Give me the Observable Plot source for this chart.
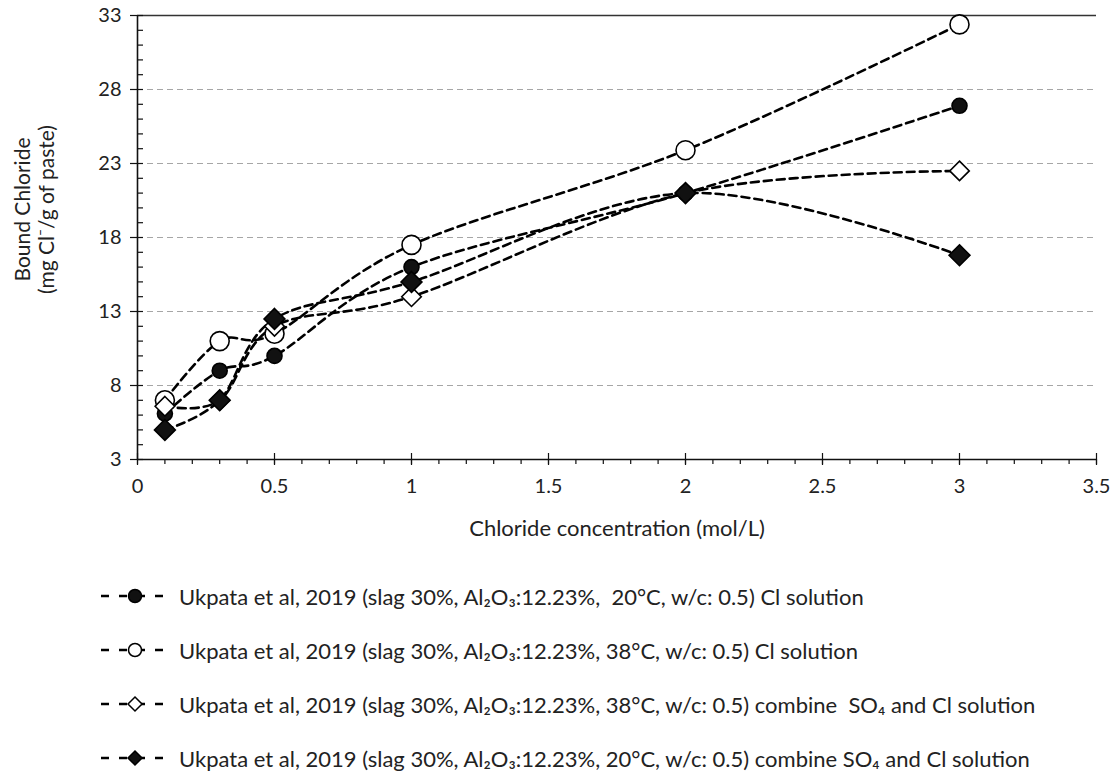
<!DOCTYPE html>
<html>
<head>
<meta charset="utf-8">
<script src="https://cdn.jsdelivr.net/npm/d3@7"></script>
<script src="https://cdn.jsdelivr.net/npm/@observablehq/plot@0.6"></script>
<style>
  html, body { margin: 0; padding: 0; background: #fff; }
  #wrap { position: relative; width: 1110px; height: 773px; font-family: Lato, "Open Sans", sans-serif; color: #222; }
  #chart { position: absolute; left: 0; top: 0; }
  .lg { position: absolute; left: 98px; height: 24px; display: flex; align-items: center; font-size: 22px; white-space: pre; }
  .lg svg { margin-right: 9px; }
</style>
</head>
<body>
<div id="wrap">
  <div id="chart"></div>
  <div id="legend"></div>
</div>
<script>
// ---- data ----
const concentration = [0.1, 0.3, 0.5, 1, 2, 3];
const slag20Cl      = [6.1, 9, 10, 16, 21, 26.9];
const slag38Cl      = [7, 11, 11.5, 17.5, 23.9, 32.4];
const slag38Combine = [6.6, 7, 12, 14, 21, 22.5];
const slag20Combine = [5, 7, 12.5, 15, 21, 16.8];
const seriesLabels = [
  "Ukpata et al, 2019 (slag 30%, Al\u2082O\u2083:12.23%,  20°C, w/c: 0.5) Cl solution",
  "Ukpata et al, 2019 (slag 30%, Al\u2082O\u2083:12.23%, 38°C, w/c: 0.5) Cl solution",
  "Ukpata et al, 2019 (slag 30%, Al\u2082O\u2083:12.23%, 38°C, w/c: 0.5) combine  SO\u2084 and Cl solution",
  "Ukpata et al, 2019 (slag 30%, Al\u2082O\u2083:12.23%, 20°C, w/c: 0.5) combine SO\u2084 and Cl solution"
];
const xTicks = [0, 0.5, 1, 1.5, 2, 2.5, 3, 3.5];
const yTicks = [3, 8, 13, 18, 23, 28, 33];
const xTitle = "Chloride concentration (mol/L)";
const yTitle = "Bound Chloride\n(mg Cl\u207B/g of paste)";

// ---- styles per series ----
const seriesValues = [slag20Cl, slag38Cl, slag38Combine, slag20Combine];
const markerStyle = [
  {symbol: "circle", r: 7.5, fill: "#111"},
  {symbol: "circle", r: 9.5, fill: "#fff"},
  {symbol: "diamond2", r: 8.8, fill: "#fff"},
  {symbol: "diamond2", r: 9.4, fill: "#111"}
];

const data = seriesValues.flatMap((vals, s) => concentration.map((x, i) => ({x, y: vals[i], s})));
const xMinor = d3.range(0, 36).map(i => i / 10);
const yMinor = d3.range(3, 34);

const chart = Plot.plot({
  width: 1110,
  height: 552,
  marginLeft: 137,
  marginRight: 14,
  marginTop: 15,
  marginBottom: 93,
  style: {fontFamily: "Lato, 'Open Sans', sans-serif", fontSize: "20px", color: "#222", background: "#fff"},
  x: {domain: [0, 3.5], label: null},
  y: {domain: [3, 33], label: null},
  marks: [
    Plot.gridY(yTicks.filter(d => d > 3 && d < 33), {stroke: "#a6a6a6", strokeOpacity: 1, strokeWidth: 1.2, strokeDasharray: "6,4"}),
    Plot.ruleY([33], {stroke: "#333", strokeWidth: 1.4}),
    Plot.axisY(yMinor, {text: null, label: null, tickSize: 6, dx: 6, stroke: "#111", strokeWidth: 1.2}),
    Plot.axisY(yTicks, {tickSize: 7, tickPadding: 9, label: null, stroke: "#111", strokeWidth: 1.2, tickFormat: d => String(d)}),
    Plot.axisX(xMinor, {text: null, label: null, tickSize: 5, stroke: "#111", strokeWidth: 1.2}),
    Plot.axisX(xTicks, {tickSize: 6, tickPadding: 13, label: null, stroke: "#111", strokeWidth: 1.2, tickFormat: d => String(d)}),
    Plot.axisX(xTicks, {text: null, label: null, tickSize: 6, dy: -6, stroke: "#111", strokeWidth: 1.2}),
    Plot.ruleX([0], {stroke: "#111", strokeWidth: 1.6}),
    Plot.ruleY([3], {stroke: "#111", strokeWidth: 1.6}),
    Plot.line(data, {x: "x", y: "y", z: "s", curve: "cardinal", tension: 0, stroke: "#000", strokeWidth: 2.6, strokeDasharray: "8,5"}),
    ...markerStyle.map((m, s) => Plot.dot(data.filter(d => d.s === s), {x: "x", y: "y", symbol: m.symbol, r: m.r, fill: m.fill, stroke: "#000", strokeWidth: 1.6})),
    Plot.text([xTitle], {frameAnchor: "bottom", dy: 76, fontSize: 22, fill: "#222"}),
    Plot.text([yTitle], {frameAnchor: "left", textAnchor: "middle", rotate: -90, dx: -103, dy: -28, fontSize: 21, lineHeight: 1.15, fill: "#222"})
  ]
});
document.getElementById("chart").appendChild(chart);

// ---- legend ----
const legendTop = [584, 638, 692, 746];
const legend = document.getElementById("legend");
seriesLabels.forEach((label, s) => {
  const m = markerStyle[s];
  const row = document.createElement("div");
  row.className = "lg";
  row.style.top = legendTop[s] + "px";
  const sym = m.symbol === "circle"
    ? `<circle cx="37" cy="12" r="6.5" fill="${m.fill}" stroke="#000" stroke-width="1.5"/>`
    : `<path d="M37,5 L44,12 L37,19 L30,12 Z" fill="${m.fill}" stroke="#000" stroke-width="1.5"/>`;
  row.innerHTML = `<svg width="72" height="24"><line x1="3" y1="12" x2="70" y2="12" stroke="#000" stroke-width="2.6" stroke-dasharray="8,10"/>${sym}</svg><span>${label}</span>`;
  legend.appendChild(row);
});
</script>
</body>
</html>
